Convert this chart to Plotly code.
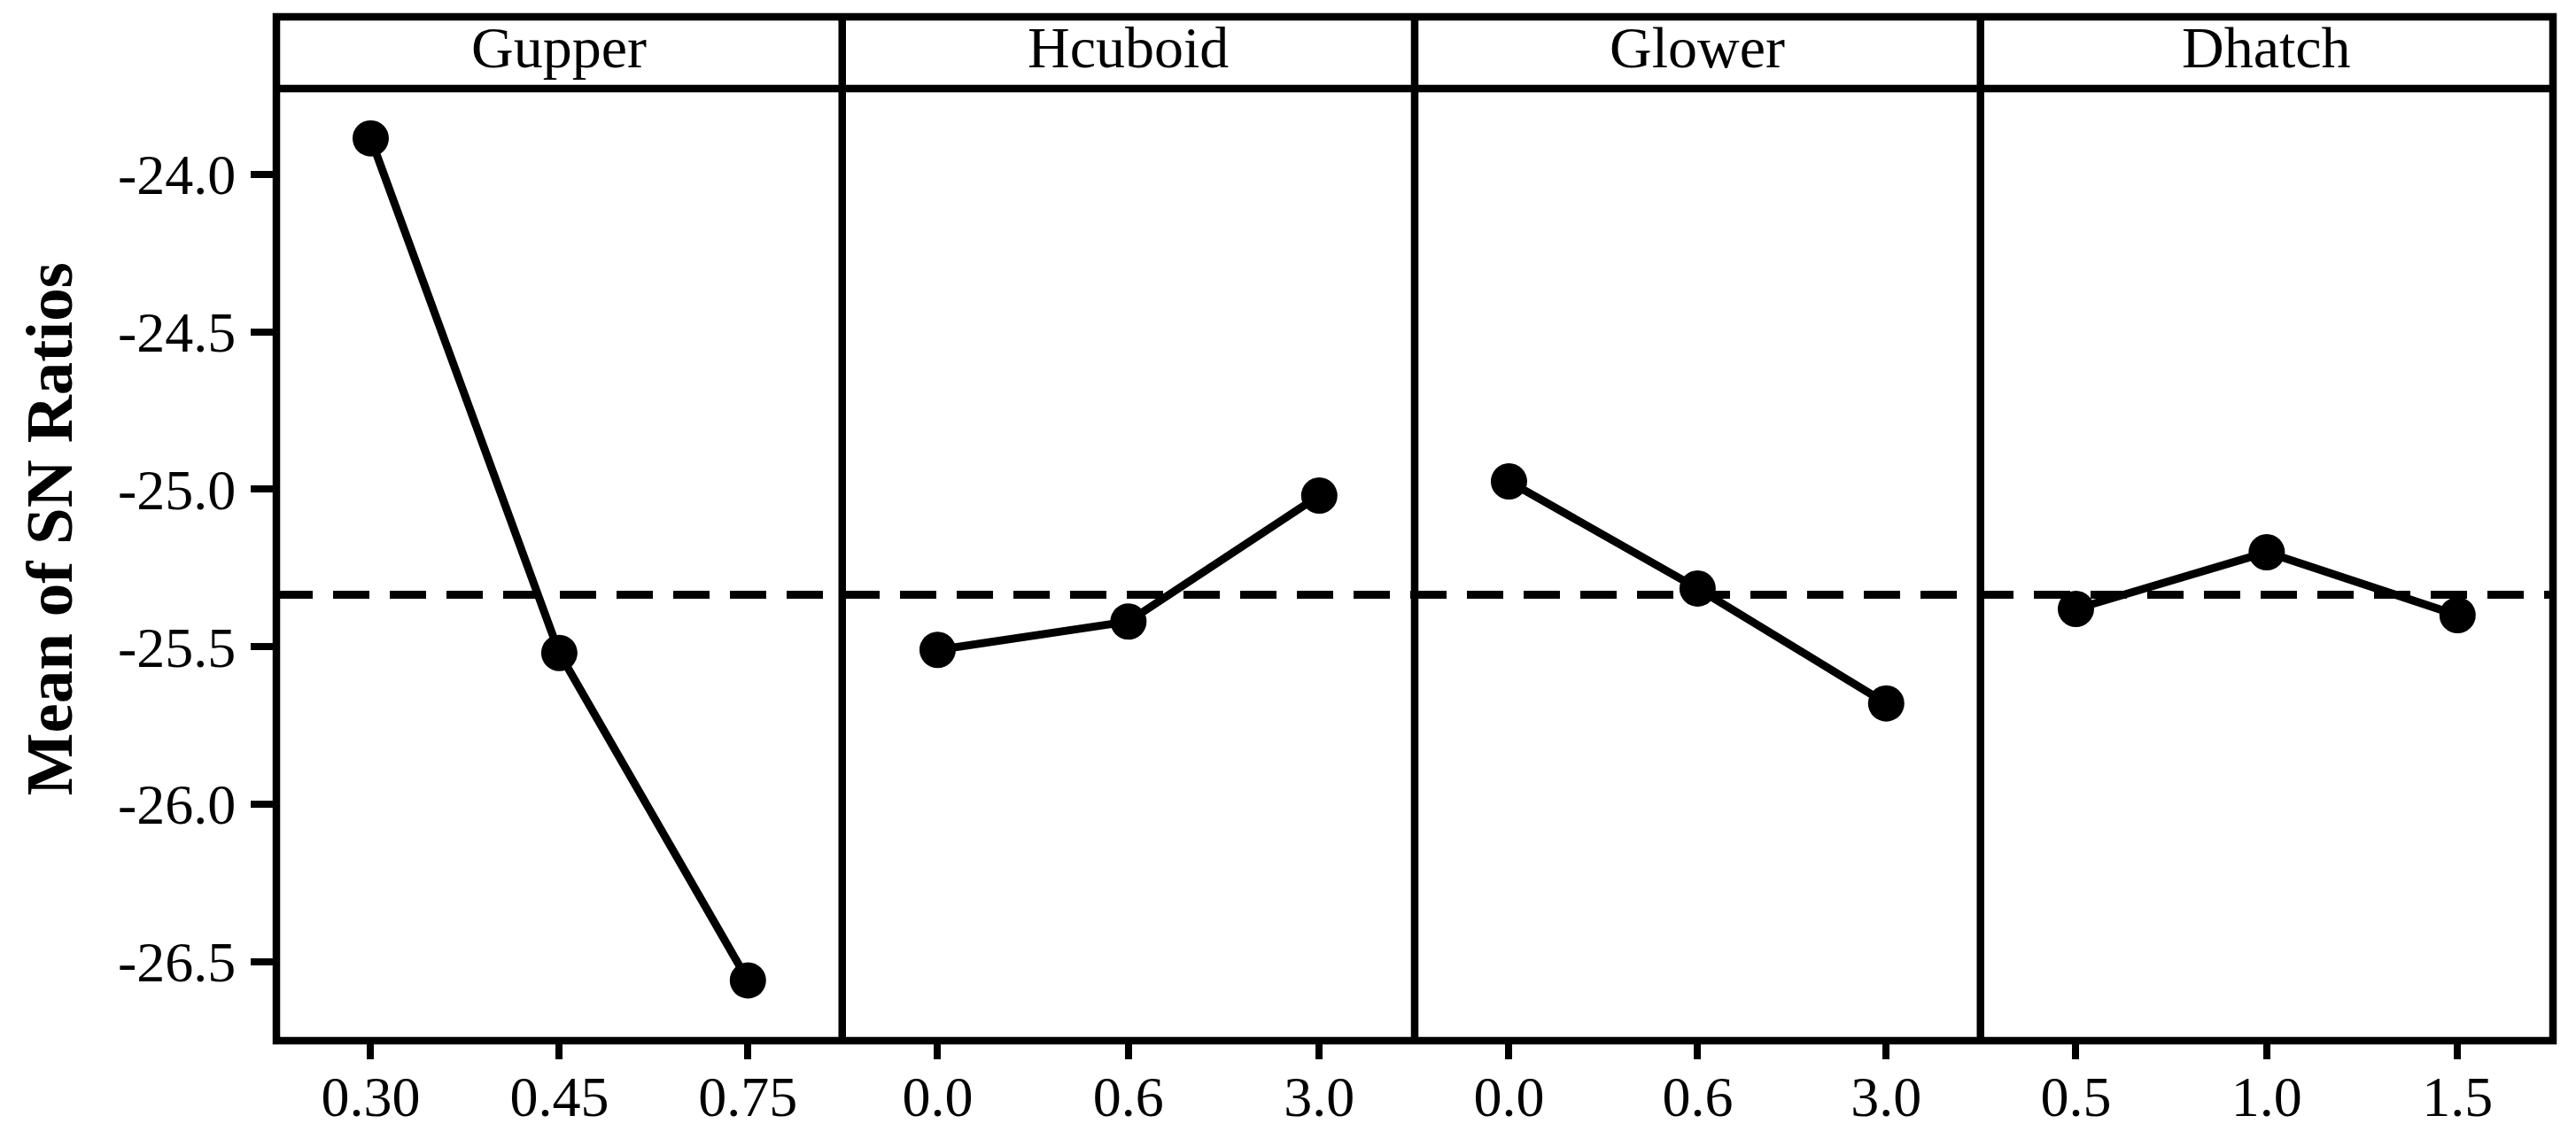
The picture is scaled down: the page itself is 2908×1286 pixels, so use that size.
import plotly.graph_objects as go
from plotly.subplots import make_subplots

# ---- data ----
factors = ["Gupper", "Hcuboid", "Glower", "Dhatch"]
levels_gupper = ["0.30", "0.45", "0.75"]
levels_hcuboid = ["0.0", "0.6", "3.0"]
levels_glower = ["0.0", "0.6", "3.0"]
levels_dhatch = ["0.5", "1.0", "1.5"]
sn_gupper = [-23.885, -25.52, -26.56]
sn_hcuboid = [-25.51, -25.42, -25.02]
sn_glower = [-24.975, -25.315, -25.68]
sn_dhatch = [-25.38, -25.20, -25.40]
overall_mean = -25.335
y_ticks = [-24.0, -24.5, -25.0, -25.5, -26.0, -26.5]
y_ticktext = ["-24.0", "-24.5", "-25.0", "-25.5", "-26.0", "-26.5"]

levels = [levels_gupper, levels_hcuboid, levels_glower, levels_dhatch]
values = [sn_gupper, sn_hcuboid, sn_glower, sn_dhatch]

W, H = 2908, 1286
ML, MR, MT, MB = 311.5, 25.5, 100.3, 110.5
plot_w = W - ML - MR
plot_h = H - MT - MB
strip_h = 81
strip_top = 1 + strip_h / plot_h

# panel boundaries (pixels from the left edge of the plotting area)
bounds_px = [0, 639, 1285.5, 1924.5, plot_w]
bounds = [b / plot_w for b in bounds_px]

FONT = "Liberation Serif"
LW = 8.5

fig = make_subplots(rows=1, cols=4, shared_yaxes=True, horizontal_spacing=0)

for i, (lv, vals) in enumerate(zip(levels, values)):
    fig.add_trace(
        go.Scatter(
            x=lv, y=vals, mode="lines+markers",
            line=dict(color="black", width=9),
            marker=dict(color="black", size=41, symbol="circle"),
            showlegend=False, cliponaxis=False,
        ),
        row=1, col=i + 1,
    )
    fig.update_xaxes(
        type="category", categoryorder="array", categoryarray=lv,
        range=[-0.5, 2.5], showgrid=False, zeroline=False, showline=False,
        domain=[bounds[i], bounds[i + 1]], automargin=False,
        ticks="outside", ticklen=20, tickwidth=8, tickcolor="black",
        tickfont=dict(family=FONT, size=64, color="black"),
        ticklabelstandoff=-13,
        row=1, col=i + 1,
    )
    fig.update_yaxes(
        range=[-26.7516, -23.727], showgrid=False, zeroline=False,
        showline=False, automargin=False, row=1, col=i + 1,
    )

fig.update_yaxes(
    tickvals=y_ticks, ticktext=y_ticktext, ticks="outside", ticklen=28,
    tickwidth=8, tickcolor="black",
    tickfont=dict(family=FONT, size=64, color="black"),
    ticklabelstandoff=4,
    row=1, col=1,
)
for c in range(2, 5):
    fig.update_yaxes(ticks="", showticklabels=False, row=1, col=c)

# mean dashed line across all panels
fig.add_shape(
    type="line", xref="paper", yref="y", x0=0, x1=1,
    y0=overall_mean, y1=overall_mean,
    line=dict(color="black", width=9, dash="41px,23px"), layer="below",
)

# frame: outer box including strip, strip bottom line, panel dividers
fig.add_shape(type="rect", xref="paper", yref="paper", x0=0, x1=1, y0=0, y1=strip_top,
              line=dict(color="black", width=LW), layer="above")
fig.add_shape(type="line", xref="paper", yref="paper", x0=0, x1=1, y0=1, y1=1,
              line=dict(color="black", width=LW), layer="above")
for b in bounds[1:4]:
    fig.add_shape(type="line", xref="paper", yref="paper", x0=b, x1=b,
                  y0=0, y1=strip_top, line=dict(color="black", width=LW), layer="above")

annotations = []
for k, name in enumerate(factors):
    annotations.append(dict(
        text=name, xref="paper", yref="paper", x=(bounds[k] + bounds[k + 1]) / 2,
        y=1 + (strip_h / 2 + 6) / plot_h, xanchor="center", yanchor="middle",
        showarrow=False, font=dict(family=FONT, size=66, color="black"),
    ))
annotations.append(dict(
    text="<b>Mean of SN Ratios</b>", xref="paper", yref="paper",
    x=(55 - ML) / plot_w, y=(H - MB - 598) / plot_h,
    xanchor="center", yanchor="middle", textangle=-90, showarrow=False,
    font=dict(family=FONT, size=75, color="black"),
))

fig.update_layout(
    width=W, height=H,
    margin=dict(l=ML, r=MR, t=MT, b=MB, pad=0, autoexpand=False),
    paper_bgcolor="white", plot_bgcolor="white",
    annotations=annotations,
    showlegend=False,
)

fig.write_html(
    "out.html",
    config={"displayModeBar": False},
    post_script="document.body.style.margin='0';document.body.style.overflow='hidden';",
)
